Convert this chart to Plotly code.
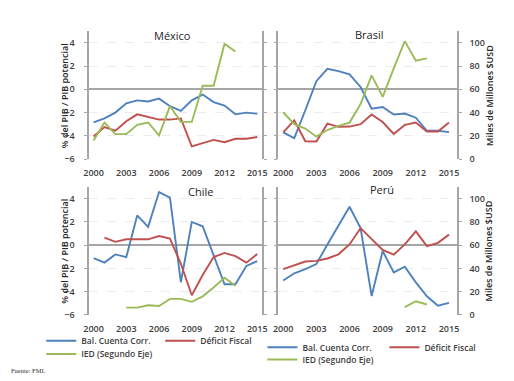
import plotly.graph_objects as go

# ---- data -------------------------------------------------------------
years = list(range(2000, 2016))

# % del PIB (eje izquierdo) / IED en miles de millones USD (segundo eje)
mx_cc = [-2.85, -2.5, -2.0, -1.2, -0.95, -1.05, -0.8, -1.45, -1.85, -0.95, -0.45, -1.1, -1.4, -2.15, -2.0, -2.1]
mx_fiscal = [-4.05, -3.25, -3.55, -2.75, -2.15, -2.4, -2.6, -2.6, -2.5, -4.9, -4.65, -4.35, -4.55, -4.25, -4.25, -4.1]
mx_ied = [16, 31.5, 21.5, 21.5, 29.5, 31.5, 20.5, 45.5, 32, 32, 63, 63, 99, 92.5, None, None]

br_cc = [-3.7, -4.2, -1.8, 0.7, 1.76, 1.56, 1.28, 0.2, -1.66, -1.52, -2.16, -2.08, -2.44, -3.56, -3.56, -3.68]
br_fiscal = [-3.7, -2.67, -4.46, -4.49, -2.95, -3.23, -3.2, -3.0, -2.16, -2.81, -3.84, -3.06, -2.86, -3.62, -3.62, -2.86]
br_ied = [40.3, 30, 26.3, 19.3, 25, 28.6, 31.4, 47.3, 72, 53.5, 78, 101.4, 84.6, 86.6, None, None]

cl_cc = [-1.12, -1.5, -0.8, -1.03, 2.55, 1.57, 4.56, 4.08, -3.19, 1.99, 1.62, -0.9, -3.36, -3.36, -1.79, -1.37]
cl_fiscal = [None, 0.64, 0.28, 0.5, 0.5, 0.5, 0.78, 0.56, -1.6, -4.31, -2.57, -1.03, -0.67, -0.95, -1.51, -0.76]
cl_ied = [None, None, None, 6.3, 6.3, 8.3, 7.7, 13.8, 13.8, 11.3, 16, 23.6, 32, 25, None, None]

pe_cc = [-3.04, -2.42, -2.06, -1.63, 0.06, 1.66, 3.3, 1.46, -4.37, -0.51, -2.34, -1.86, -3.2, -4.4, -5.21, -4.96]
pe_fiscal = [-2.06, -1.72, -1.41, -1.35, -1.15, -0.79, 0.06, 1.46, 0.48, -0.42, -0.82, 0.06, 1.18, -0.08, 0.2, 0.9]
pe_ied = [None] * 11 + [6.8, 11.8, 9.0, None, None]

x_ticks = [2000, 2003, 2006, 2009, 2012, 2015]
left_ticks = [-6, -4, -2, 0, 2, 4]
right_ticks = [0, 20, 40, 60, 80, 100]

series_names = ["Bal. Cuenta Corr.", "Déficit Fiscal", "IED (Segundo Eje)"]
colors = ["#4F81BD", "#C0504D", "#9BBB59"]

# ---- layout helpers ---------------------------------------------------
W, H = 514, 381
AX_COLOR = "#A6A6A6"
TXT = "#404040"
FONT = "Open Sans"


def px_x(p):
    return p / W


def px_y(p):
    return 1 - p / H


top_dom = [px_y(161.7), px_y(31.6)]
bot_dom = [px_y(320.0), px_y(189.9)]
left_dom = [px_x(85.0), px_x(262.0)]
right_dom = [px_x(278.3), px_x(460.7)]
left_xrange = [1999.6, 2015.47]
right_xrange = [1999.56, 2015.71]

panels = [
    # title, data, x dom, y dom, x range, labels on left, labels on right, title pos, legend names
    ("México", (mx_cc, mx_fiscal, mx_ied), left_dom, top_dom, left_xrange, True, False, (169.7, 35.7), None),
    ("Brasil", (br_cc, br_fiscal, br_ied), right_dom, top_dom, right_xrange, False, True, (371.7, 35.0), None),
    ("Chile", (cl_cc, cl_fiscal, cl_ied), left_dom, bot_dom, left_xrange, True, False, (199.0, 195.0), ("legend", "legend2")),
    ("Perú", (pe_cc, pe_fiscal, pe_ied), right_dom, bot_dom, right_xrange, False, True, (384.0, 193.0), ("legend3", "legend4")),
]

fig = go.Figure()
layout = {}
annotations = []

for i, (title, (cc, fiscal, ied), xdom, ydom, xr, lab_left, lab_right, tpos, legs) in enumerate(panels):
    xn = i + 1
    yl = 2 * i + 1
    yr = 2 * i + 2
    xname = "x" if xn == 1 else f"x{xn}"
    ylname = "y" if yl == 1 else f"y{yl}"
    yrname = f"y{yr}"

    for k, (vals, axis) in enumerate([(cc, ylname), (fiscal, ylname), (ied, yrname)]):
        tr = dict(
            x=years, y=vals, mode="lines", name=series_names[k],
            line=dict(color=colors[k], width=1.9),
            xaxis=xname, yaxis=axis, hoverinfo="skip",
            showlegend=legs is not None,
        )
        if legs is not None:
            tr["legend"] = legs[0] if k < 2 else legs[1]
        fig.add_trace(go.Scatter(**tr))

    layout["xaxis" if xn == 1 else f"xaxis{xn}"] = dict(
        domain=xdom, range=xr, anchor=ylname, tickvals=x_ticks,
        showgrid=False, zeroline=False, showline=False, ticks="",
        tickfont=dict(family=FONT, size=9, color=TXT, weight=600), ticklabelstandoff=7,
        fixedrange=True,
    )
    layout["yaxis" if yl == 1 else f"yaxis{yl}"] = dict(
        domain=ydom, range=[-6, 5], anchor=xname, tickvals=left_ticks,
        showticklabels=lab_left, showgrid=True, gridcolor="#ECECEC", griddash="dash",
        gridwidth=1, zeroline=True, zerolinecolor=AX_COLOR, zerolinewidth=2,
        showline=True, linecolor=AX_COLOR, linewidth=1.5, ticks="outside",
        ticklen=3, tickcolor=AX_COLOR, tickfont=dict(family=FONT, size=9, color=TXT, weight=600),
        ticklabelstandoff=8, fixedrange=True,
    )
    layout[f"yaxis{yr}"] = dict(
        range=[0, 110], overlaying=ylname, anchor=xname, side="right",
        tickvals=right_ticks, showticklabels=lab_right, showgrid=False, zeroline=False,
        showline=True, linecolor=AX_COLOR, linewidth=1.5, ticks="outside",
        ticklen=3, tickcolor=AX_COLOR, tickfont=dict(family=FONT, size=9, color=TXT, weight=600),
        ticklabelstandoff=6, fixedrange=True,
    )

    annotations.append(dict(
        text=title, x=px_x(tpos[0]), y=px_y(tpos[1]), xref="paper", yref="paper",
        xanchor="center", yanchor="middle", showarrow=False,
        font=dict(family=FONT, size=11, color="#262626"),
    ))

# axis titles
for cy in (97.0, 255.0):
    annotations.append(dict(
        text="% del PIB / PIB potencial", x=px_x(60), y=px_y(cy), xref="paper", yref="paper",
        xanchor="center", yanchor="middle", textangle=-90, showarrow=False,
        font=dict(family=FONT, size=9, color="#262626", weight=600),
    ))
    annotations.append(dict(
        text="Miles de Millones $USD", x=px_x(494), y=px_y(cy), xref="paper", yref="paper",
        xanchor="center", yanchor="middle", textangle=-90, showarrow=False,
        font=dict(family=FONT, size=9, color="#262626", weight=600),
    ))

annotations.append(dict(
    text="Fuente: FMI.", x=px_x(3), y=px_y(376), xref="paper", yref="paper",
    xanchor="left", yanchor="middle", showarrow=False,
    font=dict(family="Liberation Serif", size=6.5, color="#333333"),
))


def legend_box(x_px, top_px, entry_w):
    return dict(
        x=px_x(x_px), xanchor="left", y=px_y(top_px), yanchor="top",
        orientation="h", entrywidth=entry_w, entrywidthmode="pixels",
        bgcolor="rgba(0,0,0,0)", borderwidth=0, itemwidth=30, tracegroupgap=0,
        font=dict(family=FONT, size=8.5, color=TXT, weight=600),
    )


layout["legend"] = legend_box(36, 331.5, 74)
layout["legend2"] = legend_box(36, 345.0, 74)
layout["legend3"] = legend_box(262, 338.0, 77)
layout["legend4"] = legend_box(262, 350.5, 77)

fig.update_layout(
    width=W, height=H, margin=dict(l=0, r=0, t=0, b=0),
    paper_bgcolor="white", plot_bgcolor="white",
    annotations=annotations, **layout,
)

fig.write_html("out.html")
